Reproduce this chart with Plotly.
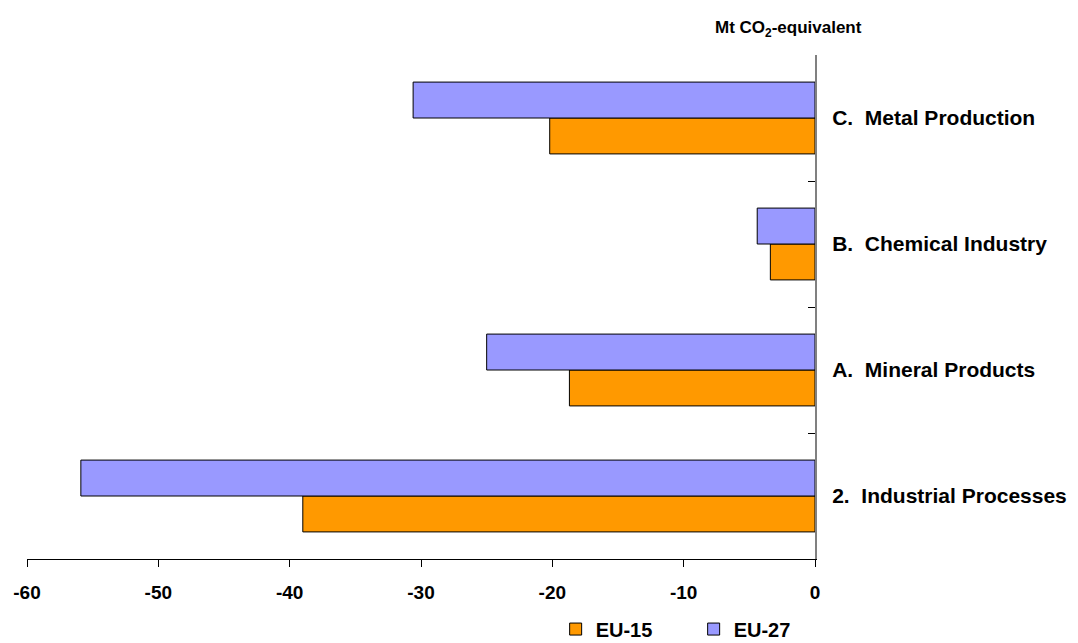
import plotly.graph_objects as go

categories = ["2.\u00a0 Industrial Processes", "A.\u00a0 Mineral Products",
              "B.\u00a0 Chemical Industry", "C.\u00a0 Metal Production"]
eu15 = [-39.0, -18.7, -3.4, -20.2]
eu27 = [-55.9, -25.0, -4.4, -30.6]
x_ticks = [-60, -50, -40, -30, -20, -10, 0]
x_tick_labels = ["-60", "-50", "-40", "-30", "-20", "-10", "0"]

FONT = "Liberation Sans, Arial, sans-serif"

fig = go.Figure()
fig.add_trace(go.Bar(y=categories, x=eu15, name="EU-15", orientation="h",
                     marker=dict(color="#FF9900", line=dict(color="black", width=1))))
fig.add_trace(go.Bar(y=categories, x=eu27, name="EU-27", orientation="h",
                     marker=dict(color="#9999FF", line=dict(color="black", width=1))))

# page body has an 8px margin, so the figure is sized/offset to compensate
fig.update_layout(
    width=1070, height=635,
    margin=dict(l=19, r=263, t=47, b=84, autoexpand=False),
    paper_bgcolor="white", plot_bgcolor="white",
    barmode="group", bargap=0.43, bargroupgap=0,
    font=dict(family=FONT, color="black", weight="bold"),
    xaxis=dict(range=[-60, 0], tickvals=x_ticks, ticktext=x_tick_labels,
               ticks="outside", ticklen=7, automargin=False,
               tickcolor="black", showline=True, linecolor="black", linewidth=1,
               showgrid=False, zeroline=False,
               tickfont=dict(size=19, family=FONT, color="black", weight="bold"),
               ticklabelstandoff=9),
    yaxis=dict(side="right", range=[-0.5, 3.5], ticks="inside", ticklen=7,
               tickson="boundaries", tickcolor="black", automargin=False,
               showline=True, linecolor="#808080", linewidth=2,
               showgrid=False, zeroline=False,
               tickfont=dict(size=21, family=FONT, color="black", weight="bold"),
               ticklabelstandoff=11),
    legend=dict(orientation="h", x=0.846, xanchor="center", y=-0.139, yanchor="middle",
                font=dict(size=20, family=FONT, color="black", weight="bold"),
                entrywidth=93, entrywidthmode="pixels", traceorder="normal"),
    annotations=[dict(text="Mt CO<sub>2</sub>-equivalent", xref="paper", yref="paper",
                      x=0.966, y=1.052, xanchor="center", yanchor="middle", showarrow=False,
                      font=dict(size=17, family=FONT, color="black", weight="bold"))],
)

fig.write_html("out.html")
